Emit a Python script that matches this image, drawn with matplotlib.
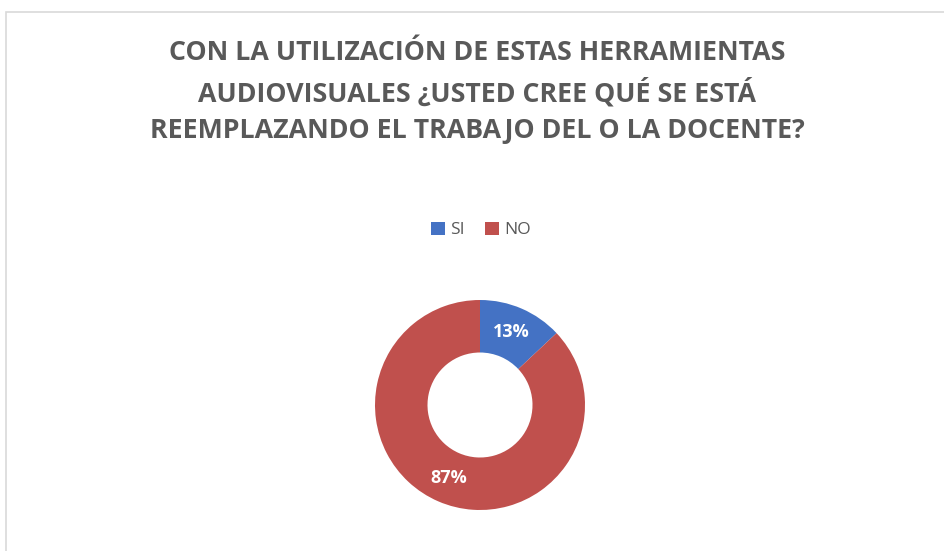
import matplotlib
matplotlib.use("Agg")
import matplotlib.pyplot as plt
from matplotlib.patches import Rectangle

# data
labels = ["SI", "NO"]
values = [13, 87]
colors = ["#4472C4", "#C0504D"]
title = ("CON LA UTILIZACIÓN DE ESTAS HERRAMIENTAS\n"
         "AUDIOVISUALES ¿USTED CREE QUÉ SE ESTÁ\n"
         "REEMPLAZANDO EL TRABAJO DEL O LA DOCENTE?")

W, H = 944, 551
fig = plt.figure(figsize=(W / 100, H / 100), dpi=100)

# light grey chart frame, clipped at the right and bottom edges
fig.patches.append(Rectangle((6 / W, -0.1), 1.2, 1 - 12 / H + 0.1,
                             transform=fig.transFigure, fill=False,
                             edgecolor="#D9D9D9", linewidth=1.2))

fig.text(477 / W, 1 - 92 / H, title, ha="center", va="center",
         fontsize=19.3, fontweight="bold", color="#595959",
         family="Open Sans", linespacing=1.53)

# donut
cx, cy, r = 480, 405, 105
ax = fig.add_axes([(cx - r) / W, 1 - (cy + r) / H, 2 * r / W, 2 * r / H])
wedges, texts, autotexts = ax.pie(
    values, colors=colors, startangle=90, counterclock=False,
    autopct="%d%%", pctdistance=0.76, radius=1,
    wedgeprops=dict(width=0.5, edgecolor="none"),
    textprops=dict(color="white", fontsize=13, fontweight="bold",
                   family="Open Sans"))
ax.set_xlim(-1, 1)
ax.set_ylim(-1, 1)
ax.set_aspect("equal")
ax.axis("off")

fig.legend(wedges, labels, loc="center", bbox_to_anchor=(481 / W, 1 - 230 / H),
           ncol=2, frameon=False, handlelength=0.8, handleheight=0.8,
           handletextpad=0.3, columnspacing=1.2,
           prop=dict(family="Open Sans", size=12.5), labelcolor="#595959")

fig.savefig("out.png", dpi=100, facecolor="white")
